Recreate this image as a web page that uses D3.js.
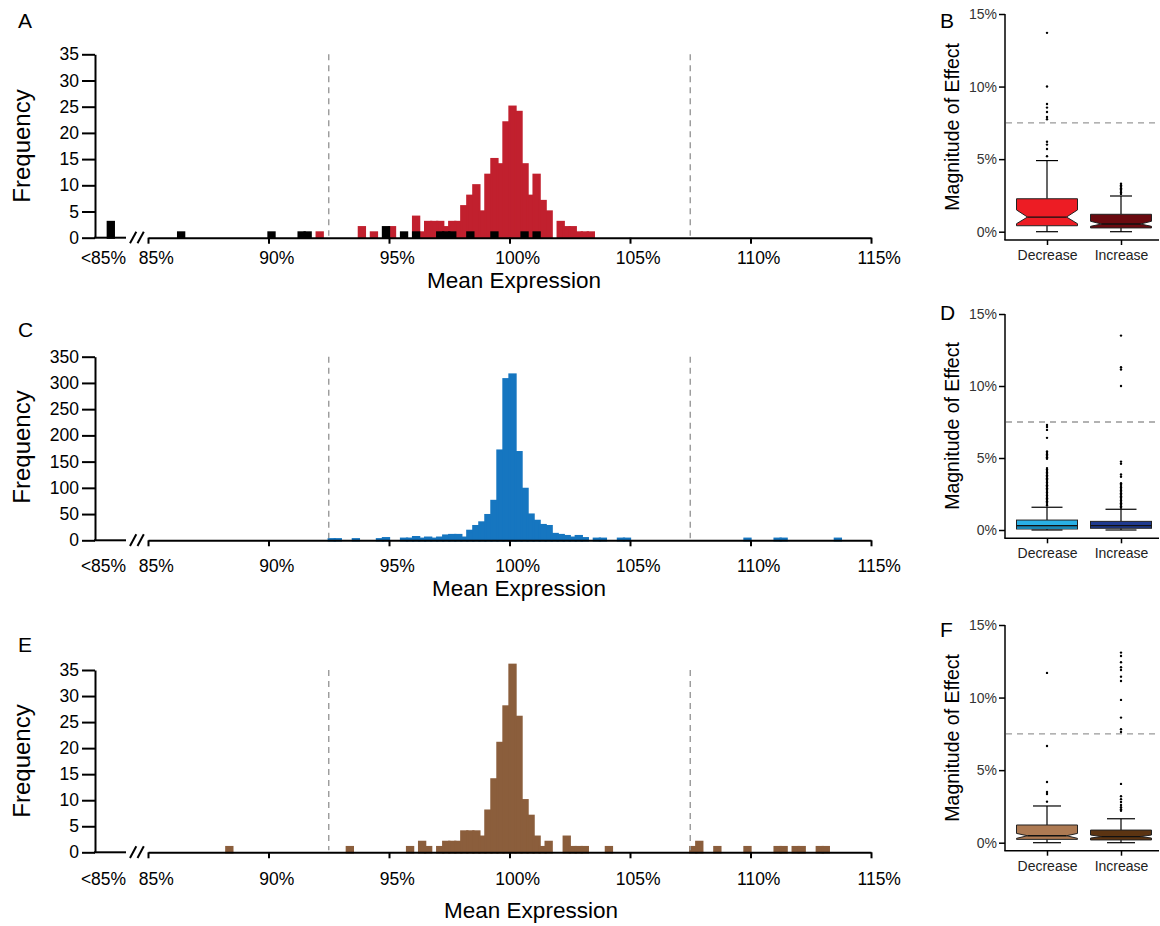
<!DOCTYPE html>
<html>
<head>
<meta charset="utf-8">
<script src="https://cdn.jsdelivr.net/npm/d3@7"></script>
<style>
  body { margin: 0; background: #fff; }
  text { font-family: "Liberation Sans", Arial, Helvetica, sans-serif; }
</style>
</head>
<body>
<div id="chart"></div>
<script>
// ---------- data ----------
var binWidth = 0.25;
var xTicks = [85, 90, 95, 100, 105, 110, 115];
var cutoffs = [92.5, 107.5];

// panel A (red = all, black = subset)
var aRedBins   = [92, 93.75, 94.25, 95, 96, 96.25, 96.5, 96.75, 97, 97.25, 97.5, 97.75, 98, 98.25, 98.5, 98.75, 99, 99.25, 99.5, 99.75, 100, 100.25, 100.5, 100.75, 101, 101.25, 101.5, 102, 102.25, 102.5, 102.75, 103, 103.25];
var aRedCounts = [1, 2, 1, 2, 4, 1, 3, 3, 3, 2, 3, 3, 6, 8, 10, 5, 12, 15, 14, 22, 25, 24, 14, 8, 12, 7, 5, 3, 2, 2, 1, 1, 1];
var aBlackBins   = [86.25, 90, 91.25, 91.5, 94.75, 95.5, 96, 97, 97.25, 97.5, 98.25, 99.25, 100.5, 101];
var aBlackCounts = [1, 1, 1, 1, 2, 1, 1, 1, 1, 1, 1, 1, 1, 1];
var aBlackUnder85 = 3;

// panel C
var cBins   = [92.5, 92.75, 93.5, 94.5, 94.75, 95.5, 95.75, 96, 96.25, 96.5, 96.75, 97, 97.25, 97.5, 97.75, 98, 98.25, 98.5, 98.75, 99, 99.25, 99.5, 99.75, 100, 100.25, 100.5, 100.75, 101, 101.25, 101.5, 101.75, 102, 102.25, 102.5, 102.75, 103, 103.5, 103.75, 104.5, 104.75, 109.75, 111, 111.25, 113.5];
var cCounts = [2, 2, 2, 2, 4, 3, 3, 6, 3, 5, 3, 5, 9, 10, 10, 5, 18, 27, 34, 48, 75, 171, 307, 316, 168, 98, 49, 37, 29, 27, 12, 10, 8, 5, 8, 4, 3, 3, 3, 3, 3, 3, 3, 3];

// panel E
var eBins   = [88.25, 93.25, 95.75, 96.25, 96.5, 97, 97.25, 97.5, 97.75, 98, 98.25, 98.5, 98.75, 99, 99.25, 99.5, 99.75, 100, 100.25, 100.5, 100.75, 101, 101.25, 101.5, 102.25, 102.5, 102.75, 103, 104, 107.5, 107.75, 108.5, 109.75, 111, 111.25, 111.75, 112, 112.75, 113];
var eCounts = [1, 1, 1, 2, 1, 1, 2, 2, 2, 4, 4, 4, 3, 8, 14, 21, 28, 36, 26, 10, 7, 3, 1, 2, 3, 1, 1, 1, 1, 1, 2, 1, 1, 1, 1, 1, 1, 1, 1];

// boxplots: [low whisker, q1, median, q3, high whisker]
var boxCategories = ["Decrease", "Increase"];
var boxTicks = [0, 5, 10, 15];
var effectCutoff = 7.5;

var bDecStats = [0, 0.41, 1.01, 2.27, 4.9];
var bDecNotch = [0.55, 1.5];
var bDecOut = [13.7, 10.0, 8.8, 8.55, 8.25, 7.9, 7.75, 6.2, 6.0, 5.7, 5.2];
var bIncStats = [0, 0.26, 0.53, 1.2, 2.46];
var bIncNotch = [0.37, 0.72];
var bIncOut = [3.3, 3.2, 3.1, 3.0, 2.9, 2.8, 2.7, 2.6];

var dDecStats = [0, 0.07, 0.3, 0.69, 1.58];
var dDecOut = [7.3, 7.15, 6.95, 6.4, 5.45, 5.35, 5.25, 5.15, 5.05, 4.95, 4.3, 4.2, 4.1, 4.0, 3.9, 3.8, 3.7, 3.6, 3.5, 3.4, 3.3, 3.2, 3.1, 3.0, 2.9, 2.8, 2.7, 2.6, 2.5, 2.4, 2.3, 2.2, 2.1, 2.0, 1.9, 1.8, 1.7];
var dIncStats = [0, 0.12, 0.3, 0.6, 1.44];
var dIncOut = [13.5, 11.3, 11.15, 10.0, 4.75, 4.6, 3.85, 3.7, 3.25, 3.15, 3.05, 2.95, 2.85, 2.75, 2.65, 2.55, 2.45, 2.35, 2.25, 2.15, 2.05, 1.95, 1.85, 1.75, 1.65, 1.55];

var fDecStats = [0, 0.23, 0.48, 1.22, 2.53];
var fDecNotch = [0.3, 0.64];
var fDecOut = [11.7, 6.66, 4.18, 3.5, 3.36, 2.83];
var fIncStats = [0, 0.19, 0.42, 0.87, 1.65];
var fIncNotch = [0.32, 0.53];
var fIncOut = [13.1, 12.86, 12.43, 12.09, 11.9, 11.44, 11.14, 9.84, 8.62, 7.82, 7.63, 4.05, 3.2, 3.0, 2.8, 2.6, 2.45, 2.3, 2.2];

// ---------- svg ----------
var svg = d3.select("#chart")
  .append("svg")
  .attr("width", 1160)
  .attr("height", 926);

var x = d3.scaleLinear().domain([85, 115]).range([148, 871]);
var axisX = 95;

function styleAxis(g, width, size) {
  g.selectAll("path.domain").attr("stroke", "#000").attr("stroke-width", width);
  g.selectAll(".tick line").attr("stroke", "#000").attr("stroke-width", width);
  g.selectAll(".tick text").attr("font-size", size).attr("fill", "#000")
    .style("font-family", '"Liberation Sans", Arial, sans-serif');
}

function drawHist(p) {
  var g = svg.append("g");
  var y = d3.scaleLinear().domain([0, p.yMax]).range([p.y0, p.yTop]);
  var binPx = x(85 + binWidth) - x(85);

  p.series.forEach(function(s) {
    g.selectAll(null)
      .data(d3.zip(s.bins, s.counts))
      .enter().append("rect")
      .attr("x", d => x(d[0]))
      .attr("width", d => x(d[0] + binWidth) - x(d[0]))
      .attr("y", d => y(d[1]))
      .attr("height", d => y(0) - y(d[1]))
      .attr("fill", s.color)
      .attr("stroke", s.color)
      .attr("stroke-width", 2.3);
    if (s.under85) {
      g.append("rect")
        .attr("x", 107.8).attr("width", binPx)
        .attr("y", y(s.under85)).attr("height", y(0) - y(s.under85))
        .attr("fill", s.color).attr("stroke", s.color).attr("stroke-width", 2.3);
    }
  });

  // cutoff lines
  g.selectAll(null).data(cutoffs).enter().append("line")
    .attr("x1", d => x(d)).attr("x2", d => x(d))
    .attr("y1", p.yTop).attr("y2", p.y0 - 2)
    .attr("stroke", "#999").attr("stroke-width", 1.4)
    .attr("stroke-dasharray", "6,5");

  // y axis
  var ya = g.append("g")
    .attr("transform", `translate(${axisX},0)`)
    .call(d3.axisLeft(y).tickValues(p.yTicks).tickSize(13).tickPadding(3).tickSizeOuter(0));
  styleAxis(ya, 2, "17.5px");

  // x axis (main part); the number sits over the tick, "%" hangs to the right
  var xa = g.append("g")
    .attr("transform", `translate(0,${p.y0})`)
    .call(d3.axisBottom(x).tickValues(xTicks).tickSize(6).tickPadding(p.pad)
      .tickSizeOuter(0).tickFormat(d => d + "%"));
  styleAxis(xa, 2, "17.5px");
  xa.selectAll(".tick text").attr("dx", "0.44em");

  // short segment left of the break
  g.append("line").attr("x1", axisX - 1).attr("x2", 126)
    .attr("y1", p.y0).attr("y2", p.y0)
    .attr("stroke", "#000").attr("stroke-width", 2);
  // break marks
  [130, 137.5].forEach(function(bx) {
    g.append("line").attr("x1", bx).attr("y1", p.y0 + 5.6)
      .attr("x2", bx + 6.3).attr("y2", p.y0 - 6)
      .attr("stroke", "#000").attr("stroke-width", 2);
  });
  g.append("text").attr("x", 103.5).attr("y", p.y0 + 6 + p.pad).attr("dy", "0.71em")
    .attr("text-anchor", "middle").attr("font-size", "17.5px").text("<85%");

  // titles
  g.append("text").attr("x", p.titleX).attr("y", p.y0 + p.titleDy)
    .attr("text-anchor", "middle").attr("font-size", "22.5px").text("Mean Expression");
  g.append("text")
    .attr("transform", `translate(30,${p.freqY}) rotate(-90)`)
    .attr("text-anchor", "middle").attr("font-size", "24px").text("Frequency");
  g.append("text").attr("x", 18).attr("y", p.letterY)
    .attr("font-size", "21px").text(p.letter);
}

function drawBox(p) {
  var g = svg.append("g");
  var y = d3.scaleLinear().domain([0, 15]).range([p.y0, p.yTop]);
  var xb = d3.scalePoint().domain(boxCategories).range([1047, 1121]);
  var half = 30.5, ind = 11;

  // cutoff line
  g.append("line").attr("x1", 1006).attr("x2", 1160)
    .attr("y1", y(effectCutoff)).attr("y2", y(effectCutoff))
    .attr("stroke", "#999").attr("stroke-width", 1.4).attr("stroke-dasharray", "6,5");

  p.groups.forEach(function(gr, i) {
    var cx = xb(boxCategories[i]);
    var s = gr.stats;
    var L = cx - half, R = cx + half;
    // whiskers
    [[s[3], s[4]], [s[1], s[0]]].forEach(function(w) {
      g.append("line").attr("x1", cx).attr("x2", cx)
        .attr("y1", y(w[0])).attr("y2", y(w[1]))
        .attr("stroke", "#000").attr("stroke-width", 1.2);
      g.append("line").attr("x1", cx - p.cap).attr("x2", cx + p.cap)
        .attr("y1", y(w[1])).attr("y2", y(w[1]))
        .attr("stroke", "#000").attr("stroke-width", 1.2);
    });
    // box
    if (gr.notch) {
      var n = gr.notch;
      var path = d3.path();
      path.moveTo(L, y(s[3])); path.lineTo(R, y(s[3]));
      path.lineTo(R, y(n[1])); path.lineTo(R - ind, y(s[2])); path.lineTo(R, y(n[0]));
      path.lineTo(R, y(s[1])); path.lineTo(L, y(s[1]));
      path.lineTo(L, y(n[0])); path.lineTo(L + ind, y(s[2])); path.lineTo(L, y(n[1]));
      path.closePath();
      g.append("path").attr("d", path.toString())
        .attr("fill", gr.color).attr("stroke", "#222").attr("stroke-width", 1);
      g.append("line").attr("x1", L + ind).attr("x2", R - ind)
        .attr("y1", y(s[2])).attr("y2", y(s[2]))
        .attr("stroke", "#111").attr("stroke-width", 1.3);
    } else {
      g.append("rect").attr("x", L).attr("width", 2 * half)
        .attr("y", y(s[3])).attr("height", y(s[1]) - y(s[3]))
        .attr("fill", gr.color).attr("stroke", "#222").attr("stroke-width", 1);
      if (gr.band) {
        g.append("rect").attr("x", L + 0.5).attr("width", 2 * half - 1)
          .attr("y", y(s[2])).attr("height", y(s[1]) - y(s[2]))
          .attr("fill", gr.band);
      }
      g.append("line").attr("x1", L).attr("x2", R)
        .attr("y1", y(s[2])).attr("y2", y(s[2]))
        .attr("stroke", "#111").attr("stroke-width", 1.3);
    }
    // outliers
    g.selectAll(null).data(gr.out).enter().append("circle")
      .attr("cx", cx).attr("cy", d => y(d)).attr("r", 1.2).attr("fill", "#000");
  });

  // axes
  var ya = g.append("g").attr("transform", "translate(1005,0)")
    .call(d3.axisLeft(y).tickValues(boxTicks).tickSize(6).tickPadding(2)
      .tickFormat(d => d + "%"));
  ya.select("path.domain").remove();
  styleAxis(ya, 1.5, "14px");
  ya.selectAll(".tick text").attr("fill", "#333");
  g.append("line").attr("x1", 1005).attr("x2", 1005)
    .attr("y1", p.yTop).attr("y2", p.axisY)
    .attr("stroke", "#000").attr("stroke-width", 1.5);

  var xa = g.append("g").attr("transform", `translate(0,${p.axisY})`)
    .call(d3.axisBottom(xb).tickSize(5).tickPadding(5));
  xa.select("path.domain").remove();
  styleAxis(xa, 1.5, "14px");
  xa.selectAll(".tick text").attr("fill", "#222");
  g.append("line").attr("x1", 1004.3).attr("x2", 1159)
    .attr("y1", p.axisY).attr("y2", p.axisY)
    .attr("stroke", "#000").attr("stroke-width", 1.5);

  g.append("text")
    .attr("transform", `translate(959,${(p.y0 + p.yTop) / 2 + 4}) rotate(-90)`)
    .attr("text-anchor", "middle").attr("font-size", "19.5px").text("Magnitude of Effect");
  g.append("text").attr("x", 940).attr("y", p.letterY)
    .attr("font-size", "21px").text(p.letter);
}

drawHist({
  letter: "A", letterY: 28, yMax: 35, y0: 237.7, yTop: 54.3,
  yTicks: [0, 5, 10, 15, 20, 25, 30, 35], pad: 8, titleX: 514, titleDy: 50, freqY: 146,
  series: [
    {bins: aRedBins, counts: aRedCounts, color: "#c1202e"},
    {bins: aBlackBins, counts: aBlackCounts, color: "#000", under85: aBlackUnder85}
  ]
});
drawHist({
  letter: "C", letterY: 337, yMax: 350, y0: 540.3, yTop: 356.7,
  yTicks: [0, 50, 100, 150, 200, 250, 300, 350], pad: 13.7, titleX: 519, titleDy: 56, freqY: 447,
  series: [{bins: cBins, counts: cCounts, color: "#1676c0"}]
});
drawHist({
  letter: "E", letterY: 652, yMax: 35, y0: 852.3, yTop: 670,
  yTicks: [0, 5, 10, 15, 20, 25, 30, 35], pad: 14.4, titleX: 531, titleDy: 66, freqY: 761,
  series: [{bins: eBins, counts: eCounts, color: "#8b5e3c"}]
});

drawBox({
  letter: "B", letterY: 28, y0: 231.7, yTop: 14, axisY: 240, cap: 11,
  groups: [
    {stats: bDecStats, notch: bDecNotch, out: bDecOut, color: "#ed1c24"},
    {stats: bIncStats, notch: bIncNotch, out: bIncOut, color: "#6a0a10"}
  ]
});
drawBox({
  letter: "D", letterY: 320, y0: 530, yTop: 314, axisY: 538.3, cap: 15.5,
  groups: [
    {stats: dDecStats, out: dDecOut, color: "#29b0e6", band: "#1b86b3"},
    {stats: dIncStats, out: dIncOut, color: "#1f3a8f"}
  ]
});
drawBox({
  letter: "F", letterY: 637, y0: 842.7, yTop: 625, axisY: 850.7, cap: 14,
  groups: [
    {stats: fDecStats, notch: fDecNotch, out: fDecOut, color: "#ad7a53"},
    {stats: fIncStats, notch: fIncNotch, out: fIncOut, color: "#5b3412"}
  ]
});
</script>
</body>
</html>
